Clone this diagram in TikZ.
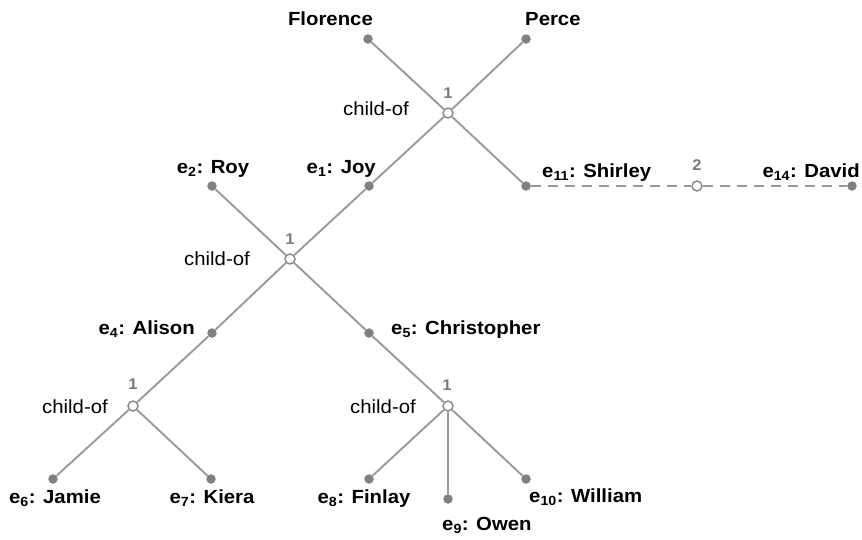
\documentclass[tikz,border=0pt]{standalone}
\usepackage{fontspec}
\setmainfont{Liberation Sans}[FakeStretch=1.07]
\begin{document}
\begin{tikzpicture}[x=1pt,y=-1pt,
  edge/.style={draw=black!40,line width=1.9pt},
  dashedge/.style={edge,dash pattern=on 10pt off 7pt},
  ent/.style={circle,fill=black!50,inner sep=0pt,minimum size=9.5pt},
  hub/.style={circle,draw=black!48,fill=white,line width=1.4pt,inner sep=0pt,minimum size=10pt},
  entlabel/.style={inner sep=0pt,font=\fontsize{19}{22}\selectfont\bfseries},
  rellabel/.style={inner sep=0pt,font=\fontsize{19}{22}\selectfont},
  multlabel/.style={inner sep=0pt,text=black!52,font=\fontsize{15.5}{18}\selectfont\bfseries}]
\newcommand{\ename}[2]{e\textsubscript{#1}: #2}
\useasboundingbox (0,0) rectangle (862,539);

% top relation: Joy and Shirley are children of Florence and Perce
\node[hub] (hA) at (448,113) {};
\node[ent] (fl) at (368,39) {};
\node[ent] (pe) at (526,39) {};
\node[ent] (joy) at (369,186) {};
\node[ent] (shi) at (526,186) {};

% middle relation
\node[hub] (hB) at (290,259) {};
\node[ent] (roy) at (212,186) {};
\node[ent] (ali) at (212,333) {};
\node[ent] (chr) at (369,333) {};

% lower left relation
\node[hub] (hC) at (133,406) {};
\node[ent] (jam) at (53,479) {};
\node[ent] (kie) at (211,479) {};

% lower right relation
\node[hub] (hD) at (448,406) {};
\node[ent] (fin) at (369,479) {};
\node[ent] (owe) at (448,499) {};
\node[ent] (wil) at (526,479) {};

% second-order relation between Shirley and David
\node[hub] (hE) at (697,186) {};
\node[ent] (dav) at (852,186) {};

% connectors
\draw[edge] (fl) -- (hA);
\draw[edge] (pe) -- (hA);
\draw[edge] (hA) -- (joy);
\draw[edge] (hA) -- (shi);
\draw[edge] (roy) -- (hB);
\draw[edge] (joy) -- (hB);
\draw[edge] (hB) -- (ali);
\draw[edge] (hB) -- (chr);
\draw[edge] (ali) -- (hC);
\draw[edge] (hC) -- (jam);
\draw[edge] (hC) -- (kie);
\draw[edge] (chr) -- (hD);
\draw[edge] (hD) -- (fin);
\draw[edge] (hD) -- (owe);
\draw[edge] (hD) -- (wil);
\draw[dashedge] (shi) -- (hE);
\draw[dashedge] (hE) -- (dav);

% entity labels
\node[entlabel,anchor=base east] (lfl) at (373,25) {Florence};
\node[entlabel,anchor=base west] (lpe) at (525,25) {Perce};
\node[entlabel,anchor=base east] (ljoy) at (376,173) {\ename{1}{Joy}};
\node[entlabel,anchor=base] (lroy) at (213,173) {\ename{2}{Roy}};
\node[entlabel,anchor=base west] (lshi) at (542,177) {\ename{11}{Shirley}};
\node[entlabel,anchor=base east] (ldav) at (860,177) {\ename{14}{David}};
\node[entlabel,anchor=base east] (lali) at (195,334) {\ename{4}{Alison}};
\node[entlabel,anchor=base west] (lchr) at (391,334) {\ename{5}{Christopher}};
\node[entlabel,anchor=base] (ljam) at (55,503) {\ename{6}{Jamie}};
\node[entlabel,anchor=base] (lkie) at (212,503) {\ename{7}{Kiera}};
\node[entlabel,anchor=base] (lfin) at (364,503) {\ename{8}{Finlay}};
\node[entlabel,anchor=base west] (lowe) at (442,530) {\ename{9}{Owen}};
\node[entlabel,anchor=base west] (lwil) at (529,502) {\ename{10}{William}};

% relation labels
\node[rellabel,anchor=base] (rA) at (376,115) {child-of};
\node[rellabel,anchor=base] (rB) at (217,265) {child-of};
\node[rellabel,anchor=base] (rC) at (75,413) {child-of};
\node[rellabel,anchor=base] (rD) at (383,413) {child-of};

% multiplicities
\node[multlabel] (mA) at (448,93) {1};
\node[multlabel] (mB) at (290,239) {1};
\node[multlabel] (mC) at (133,384) {1};
\node[multlabel] (mD) at (447,385) {1};
\node[multlabel] (mE) at (697,165) {2};
\end{tikzpicture}
\end{document}
